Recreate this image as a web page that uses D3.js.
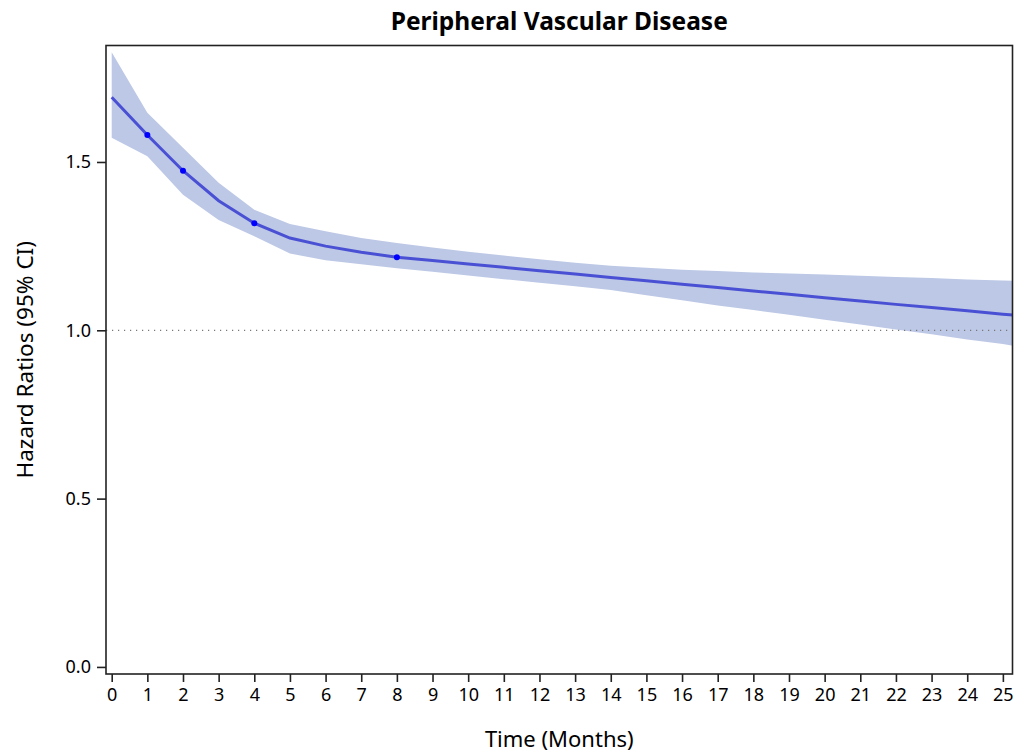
<!DOCTYPE html>
<html><head><meta charset="utf-8">
<script src="https://cdn.jsdelivr.net/npm/d3@7"></script>
<style>body{margin:0;background:#fff;} text{font-family:"Noto Sans",sans-serif;fill:#000;}</style>
</head><body>
<svg id="c" width="1031" height="753"></svg>
<script>
const title = "Peripheral Vascular Disease";
const xLabel = "Time (Months)";
const yLabel = "Hazard Ratios (95% CI)";
const months = [0,1,2,3,4,5,6,7,8,9,10,11,12,13,14,15,16,17,18,19,20,21,22,23,24,25,25.3];
const hr =    [1.692,1.580,1.474,1.385,1.318,1.274,1.250,1.232,1.217,1.207,1.197,1.187,1.177,1.167,1.157,1.147,1.137,1.127,1.117,1.107,1.097,1.087,1.077,1.068,1.058,1.048,1.045];
const upper = [1.826,1.646,1.542,1.438,1.358,1.316,1.294,1.274,1.259,1.246,1.233,1.222,1.211,1.201,1.192,1.186,1.180,1.176,1.172,1.169,1.166,1.162,1.158,1.155,1.151,1.148,1.147];
const lower = [1.572,1.517,1.403,1.328,1.279,1.228,1.208,1.196,1.184,1.174,1.163,1.152,1.141,1.131,1.120,1.104,1.089,1.074,1.060,1.046,1.031,1.017,1.002,0.988,0.973,0.959,0.954];
const markerMonths = [1,2,4,8];
const xTicks = d3.range(0,26);
const yTicks = [0.0,0.5,1.0,1.5];
const refValue = 1.0;

const svg = d3.select("#c");
const L=106, R=1012.5, T=45.5, B=674;
const x = d3.scaleLinear().domain([-0.16,25.27]).range([L,R]);
const y = d3.scaleLinear().domain([-0.021,1.846]).range([B,T]);

svg.append("clipPath").attr("id","clip").append("rect")
  .attr("x",L).attr("y",T).attr("width",R-L).attr("height",B-T);

const data = months.map((m,i)=>({m, hr:hr[i], lo:lower[i], hi:upper[i]}));
const g = svg.append("g").attr("clip-path","url(#clip)");

g.append("path").datum(data)
  .attr("d", d3.area().x(d=>x(d.m)).y0(d=>y(d.lo)).y1(d=>y(d.hi)))
  .attr("fill","#bcc8e5");

g.append("line").attr("x1",L).attr("x2",R).attr("y1",y(refValue)).attr("y2",y(refValue))
  .attr("stroke","#777").attr("stroke-width",1.2).attr("stroke-dasharray","1.2,4.8");

g.append("path").datum(data)
  .attr("d", d3.line().x(d=>x(d.m)).y(d=>y(d.hr)))
  .attr("fill","none").attr("stroke","#4a50d4").attr("stroke-width",3);

g.selectAll("circle.mk").data(data.filter(d=>markerMonths.includes(d.m)))
  .enter().append("circle").attr("class","mk")
  .attr("cx",d=>x(d.m)).attr("cy",d=>y(d.hr)).attr("r",3).attr("fill","#0000ff");

// frame
svg.append("rect").attr("x",L).attr("y",T).attr("width",R-L).attr("height",B-T)
  .attr("fill","none").attr("stroke","#222").attr("stroke-width",1.6);

const xa = svg.append("g").attr("transform",`translate(0,${B})`)
  .call(d3.axisBottom(x).tickValues(xTicks).tickSize(8).tickPadding(6).tickFormat(d3.format("d")));
xa.select(".domain").remove();
xa.selectAll("line").attr("stroke","#222").attr("stroke-width",1.6);
xa.selectAll("text").style("font-size","18px").style("font-family","'Noto Sans',sans-serif").attr("fill","#000");

const ya = svg.append("g").attr("transform",`translate(${L},0)`)
  .call(d3.axisLeft(y).tickValues(yTicks).tickSize(9).tickPadding(6).tickFormat(d3.format(".1f")));
ya.select(".domain").remove();
ya.selectAll("line").attr("stroke","#222").attr("stroke-width",1.6);
ya.selectAll("text").style("font-size","18px").style("font-family","'Noto Sans',sans-serif").attr("fill","#000");

svg.append("text").attr("x",(L+R)/2).attr("y",30).attr("text-anchor","middle")
  .style("font-size","24.5px").style("font-weight","bold").text(title);
svg.append("text").attr("x",(L+R)/2).attr("y",747).attr("text-anchor","middle")
  .style("font-size","22px").text(xLabel);
svg.append("text").attr("transform",`translate(33,${(T+B)/2}) rotate(-90)`).attr("text-anchor","middle")
  .style("font-size","22.5px").text(yLabel);
</script>
</body></html>
